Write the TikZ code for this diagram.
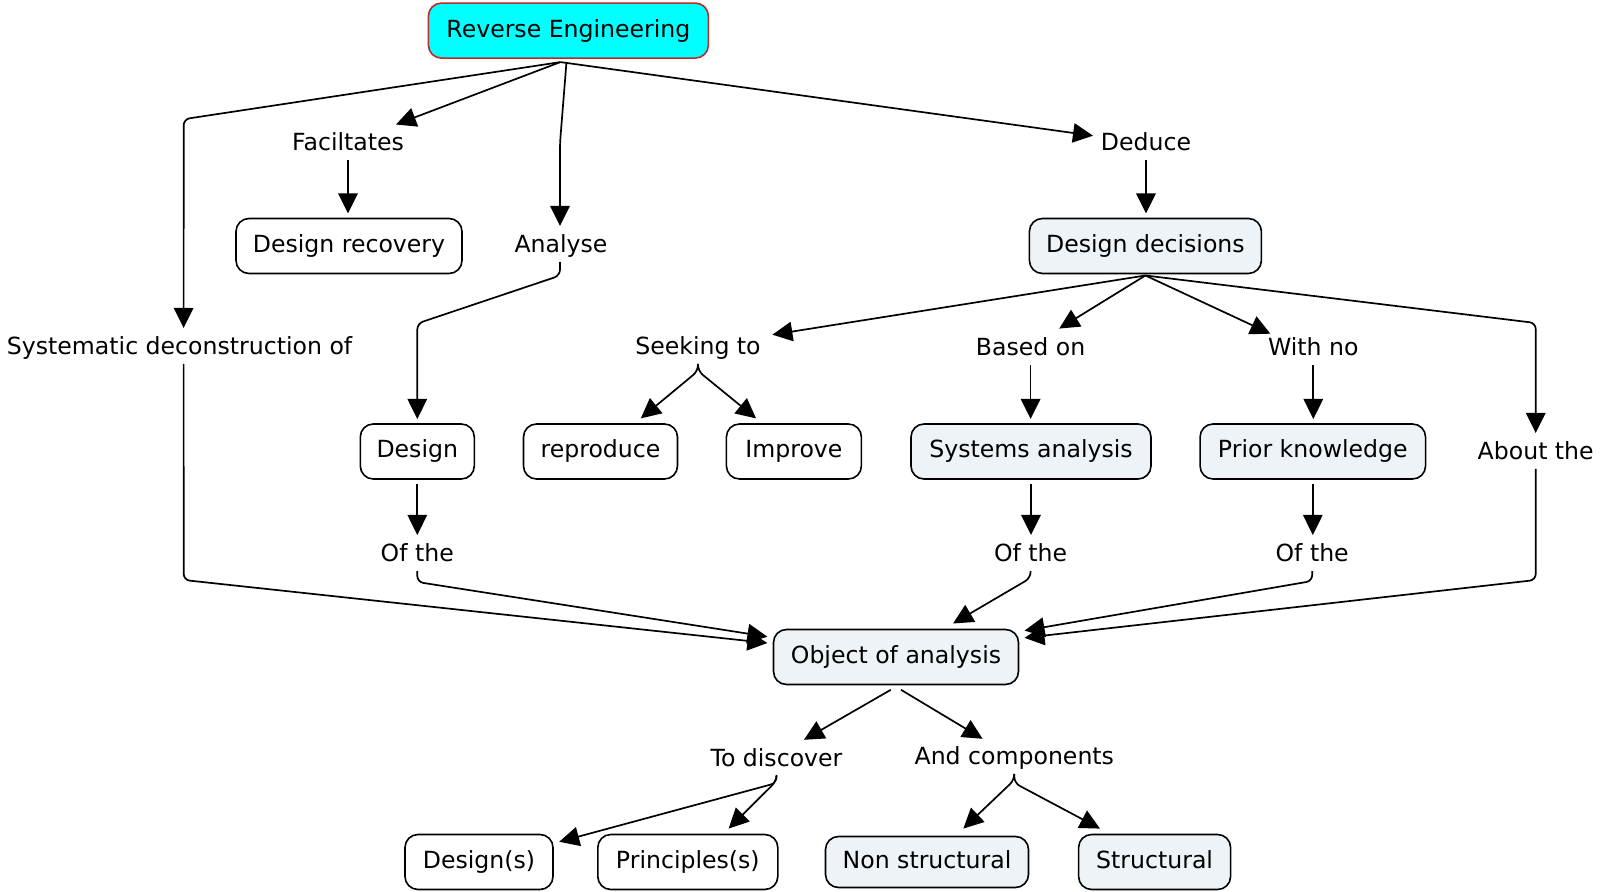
\documentclass[tikz,border=0pt]{standalone}
\usepackage{fontspec}
\setmainfont{DejaVu Sans}
\usetikzlibrary{arrows.meta,calc}
\definecolor{cyanfill}{RGB}{0,255,255}
\definecolor{reborder}{RGB}{190,40,40}
\definecolor{boxfill}{RGB}{237,243,246}
\begin{document}
\begin{tikzpicture}[x=0.5pt,y=-0.5pt,
  every node/.style={font=\fontsize{11.8}{14}\selectfont},
  txt/.style={inner xsep=3pt, inner ysep=3.25pt, text height=10pt, text depth=1.5pt, outer sep=0pt},
  cbox/.style={draw=black, line width=0.8pt, rounded corners=6.5pt, minimum height=27.5pt, inner sep=0pt, outer sep=2.5pt, text height=9pt, text depth=2.5pt, fill=white},
  fbox/.style={cbox, fill=boxfill},
  conn/.style={line width=0.85pt, rounded corners=3pt, -{Triangle[length=10pt,width=9.7pt]}}]
\useasboundingbox (0,0) rectangle (1600,892);

\node[cbox, fill=cyanfill, draw=reborder, minimum width=140pt] (re) at (568.4,30.6) {Reverse Engineering};
\node[txt] (fac) at (348,142) {Faciltates};
\node[cbox, minimum width=113pt] (dr) at (349,246) {Design recovery};
\node[txt] (ana) at (561,244) {Analyse};
\node[txt] (sys) at (179.6,346) {Systematic deconstruction of};
\node[txt] (ded) at (1146,142) {Deduce};
\node[fbox, minimum width=116pt] (dd) at (1145.4,246) {Design decisions};
\node[txt] (seek) at (698,346) {Seeking to};
\node[txt] (based) at (1030.6,347) {Based on};
\node[txt] (withno) at (1313.3,347) {With no};
\node[txt] (about) at (1535.7,451) {About the};
\node[cbox, minimum width=57pt] (des) at (417.3,451.5) {Design};
\node[cbox, minimum width=77pt] (rep) at (600.5,451.5) {reproduce};
\node[cbox, minimum width=67.5pt] (imp) at (793.9,451.5) {Improve};
\node[fbox, minimum width=120pt] (sa) at (1031,451.5) {Systems analysis};
\node[fbox, minimum width=112.75pt] (pk) at (1312.8,451.5) {Prior knowledge};
\node[txt] (of1) at (417.3,553) {Of the};
\node[txt] (of2) at (1030.6,553) {Of the};
\node[txt] (of3) at (1312.2,553) {Of the};
\node[fbox, minimum width=122.5pt] (obj) at (896,657) {Object of analysis};
\node[txt] (tod) at (776.5,758.2) {To discover};
\node[txt] (andc) at (1014.3,756.1) {And components};
\node[cbox, minimum width=74pt] (dss) at (479,862) {Design(s)};
\node[cbox, minimum width=90pt] (prs) at (687.8,862) {Principles(s)};
\node[fbox, minimum width=101.5pt, minimum height=25.5pt] (ns) at (927,862) {Non structural};
\node[fbox, minimum width=76pt] (st) at (1154.6,862) {Structural};

\coordinate (reJ) at ($(re.south)+(-8,-1)$);
\coordinate (ddJ) at ($(dd.south)+(0,-3)$);

\draw[conn] (reJ) -- (183.7,119.2) -- ($(sys.north)+(4,0)$);
\draw[conn] (reJ) -- ($(fac)+(48,-17.5)$);
\draw[conn] ($(re.south)+(-2,0)$) -- (560,143) -- ($(ana.north)+(-1,0)$);
\draw[conn] (reJ) -- ($(ded)+(-53,-6.3)$);
\draw[conn] (fac.south) -- (fac.south |- dr.north);
\draw[conn] (ded.south) -- (ded.south |- dd.north);
\draw[conn] ($(ana.south)+(-1,0)$) -- (560,275.6) -- (417.3,323.5) -- (des.north);
\draw[conn] ($(sys.south)+(4,0)$) -- (183.7,580) -- ($(obj)+(-128.6,-14)$);
\draw[conn] (des.south) -- (of1.north);
\draw[conn] (of1.south) -- (417.3,582) -- ($(obj)+(-128.6,-20.3)$);

\draw[conn] (ddJ) -- ($(seek)+(74.4,-11.3)$);
\draw[conn] (ddJ) -- ($(based)+(28.6,-18.4)$);
\draw[conn] (ddJ) -- ($(withno)+(-42.9,-13.3)$);
\draw[conn] (ddJ) -- (1535.7,323) -- (about.north);

\draw[conn] (seek.south) -- (698,371) -- ($(rep)+(40.3,-33.1)$);
\draw[conn] (seek.south) -- (698,371) -- ($(imp)+(-37.8,-33.1)$);
\draw[conn] (based.south) -- (based.south |- sa.north);
\draw[conn] (withno.south) -- (withno.south |- pk.north);
\draw[conn] (sa.south) -- (sa.south |- of2.north);
\draw[conn] (pk.south) -- (pk.south |- of3.north);
\draw[conn] (of2.south) -- (1030.6,578) -- ($(obj)+(57,-33.5)$);
\draw[conn] (of3.south) -- (1312.2,581) -- ($(obj)+(128.5,-26.4)$);
\draw[conn] (about.south) -- (1535.7,580) -- ($(obj)+(128.5,-19.2)$);

\draw[conn] ($(obj)+(-5.2,32.8)$) -- ($(tod)+(27.5,-18.4)$);
\draw[conn] ($(obj)+(5,32.8)$) -- ($(andc)+(-31.7,-17.3)$);
\draw[conn] (tod.south) -- (776.5,783) -- ($(dss)+(80.2,-20.2)$);
\draw[conn] (tod.south) -- (776.5,781) -- ($(prs)+(40.8,-33.4)$);
\draw[conn] (andc.south) -- (1014.3,780) -- ($(ns)+(36.3,-33.4)$);
\draw[conn] (andc.south) -- (1014.3,783) -- ($(st)+(-54.6,-33.4)$);
\end{tikzpicture}
\end{document}
